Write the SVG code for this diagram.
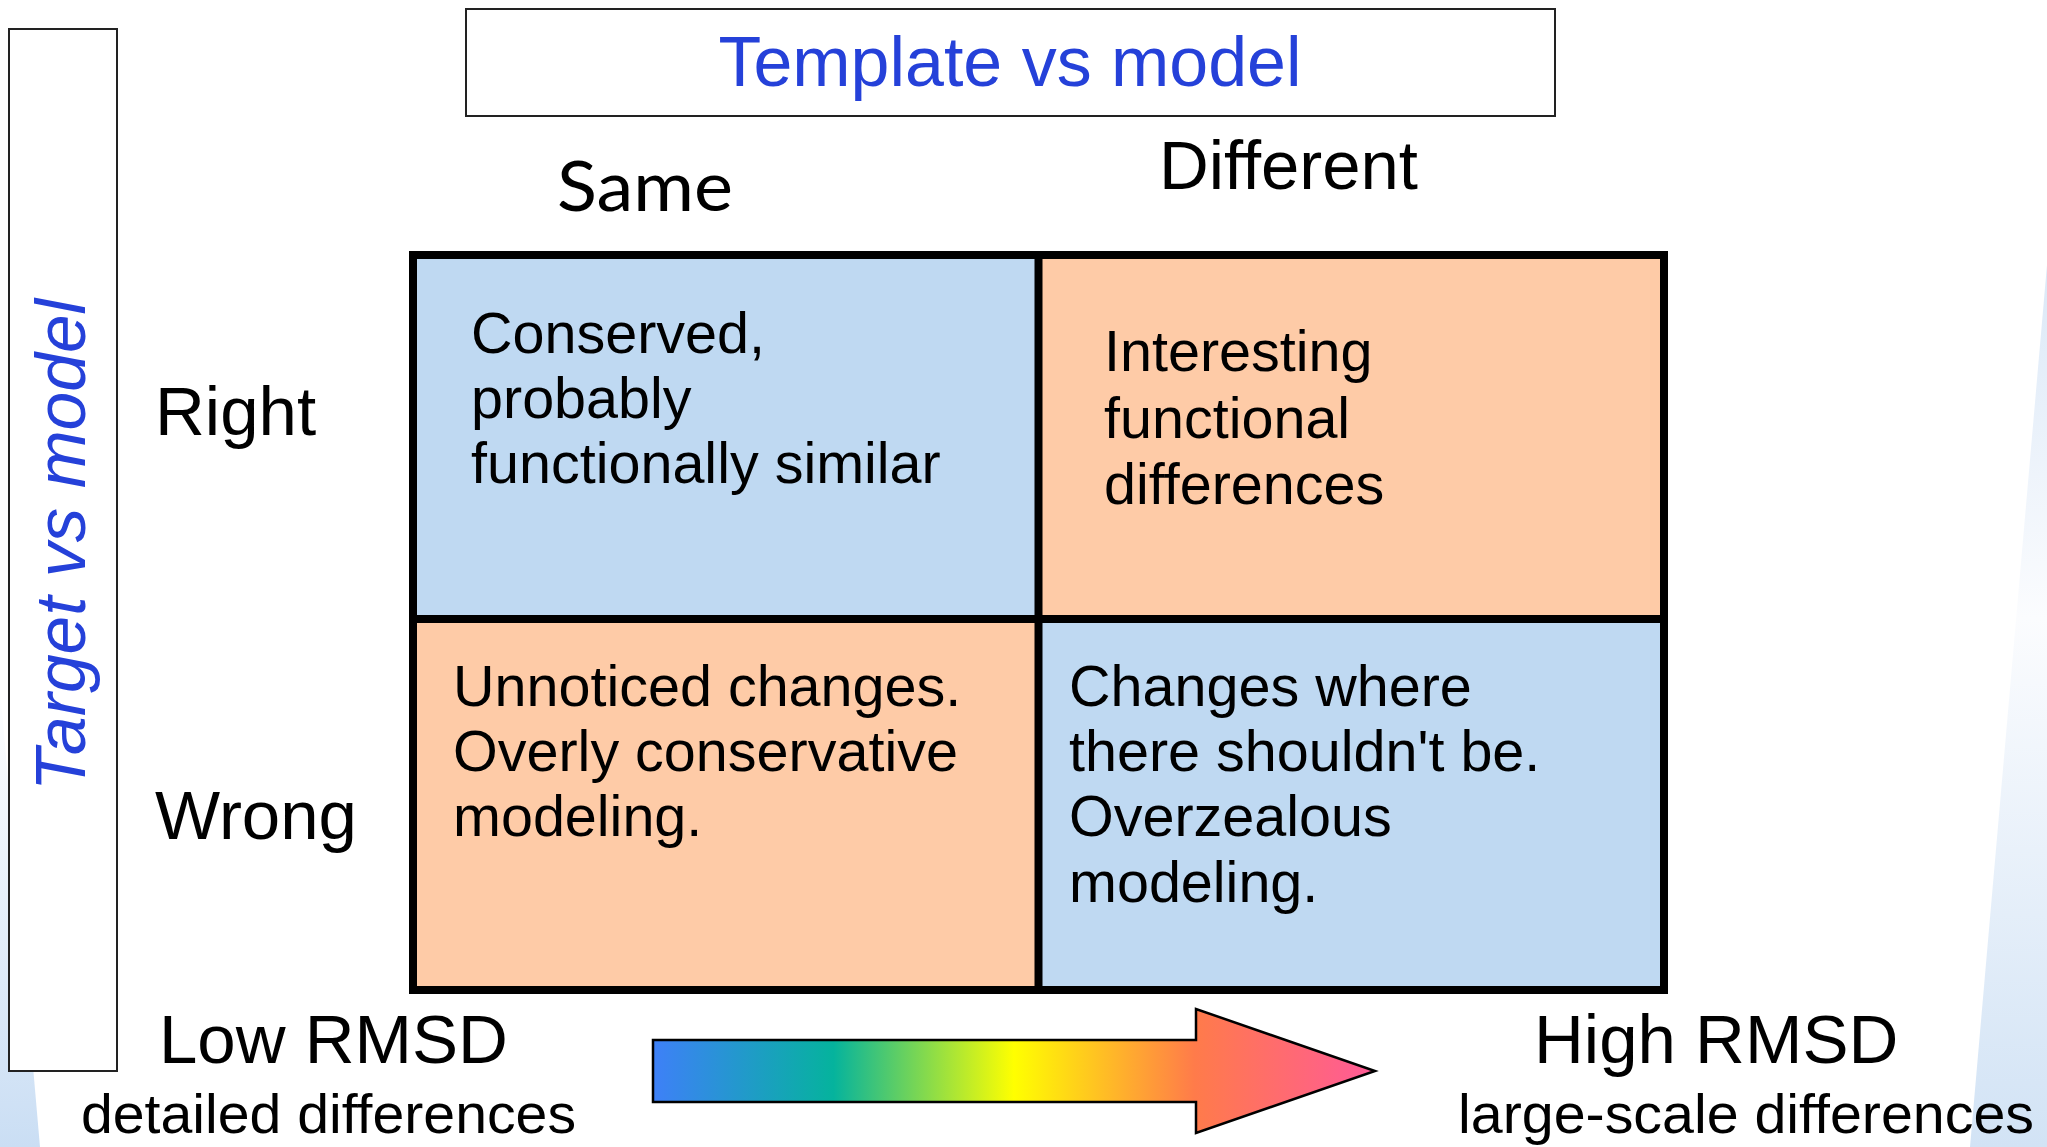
<svg xmlns="http://www.w3.org/2000/svg" width="2047" height="1147" viewBox="0 0 2047 1147">
  <defs>
    <style>
      .lbl { font-family: "Liberation Sans", Arial, sans-serif; fill: #000; }
      .big { font-size: 69px; }
      .cell { font-size: 57.5px; }
      .sub { font-size: 56px; }
      .blue { font-family: "Liberation Sans", Arial, sans-serif; fill: #2541d9; font-size: 70px; }
      .frame { fill: #fff; stroke: #222; stroke-width: 2; }
      .grid { fill: none; stroke: #000; stroke-width: 8; }
    </style>
    <linearGradient id="rainbow" x1="653" y1="0" x2="1375" y2="0" gradientUnits="userSpaceOnUse">
      <stop offset="0" stop-color="#3e80f8"/>
      <stop offset="0.25" stop-color="#05b39d"/>
      <stop offset="0.5" stop-color="#ffff00"/>
      <stop offset="0.75" stop-color="#ff7b4a"/>
      <stop offset="1" stop-color="#ff5a98"/>
    </linearGradient>
    <linearGradient id="wedgeL" x1="0" y1="687" x2="0" y2="1147" gradientUnits="userSpaceOnUse">
      <stop offset="0" stop-color="#ffffff"/>
      <stop offset="1" stop-color="#cadef4"/>
    </linearGradient>
    <linearGradient id="wedgeR" x1="0" y1="265" x2="0" y2="1147" gradientUnits="userSpaceOnUse">
      <stop offset="0" stop-color="#dbe8f7"/>
      <stop offset="0.4" stop-color="#fbfcfe"/>
      <stop offset="1" stop-color="#d2e3f5"/>
    </linearGradient>
  </defs>

  <rect x="0" y="0" width="2047" height="1147" fill="#fff"/>
  <g id="background">
    <polygon points="0,687 40,1147 0,1147" fill="url(#wedgeL)"/>
    <polygon points="2047,265 2047,1147 1970,1147" fill="url(#wedgeR)"/>
  </g>

  <g id="title">
    <rect class="frame" x="466" y="9" width="1089" height="107"/>
    <text class="blue" x="1010" y="86" text-anchor="middle" textLength="583" lengthAdjust="spacingAndGlyphs">Template vs model</text>
  </g>

  <g id="side-title">
    <rect class="frame" x="9" y="29" width="108" height="1042"/>
    <text class="blue" font-style="italic" transform="translate(85,545) rotate(-90)" text-anchor="middle" textLength="492" lengthAdjust="spacingAndGlyphs">Target vs model</text>
  </g>

  <g id="col-same">
    <text x="557" y="211" font-family="Lato, 'Open Sans', sans-serif" font-size="70" fill="#000" textLength="176" lengthAdjust="spacingAndGlyphs">Same</text>
  </g>
  <g id="col-different">
    <text class="lbl big" x="1159" y="189" textLength="259" lengthAdjust="spacingAndGlyphs">Different</text>
  </g>
  <g id="row-right">
    <text class="lbl big" x="155" y="435">Right</text>
  </g>
  <g id="row-wrong">
    <text class="lbl big" x="155" y="839">Wrong</text>
  </g>

  <g id="cell-tl">
    <rect x="413" y="255" width="625.5" height="364" fill="#bfd9f2"/>
    <text class="lbl cell" x="471" y="353">Conserved,</text>
    <text class="lbl cell" x="471" y="418">probably</text>
    <text class="lbl cell" x="471" y="483">functionally similar</text>
  </g>
  <g id="cell-tr">
    <rect x="1038.5" y="255" width="625.5" height="364" fill="#fecba7"/>
    <text class="lbl cell" x="1104" y="371">Interesting</text>
    <text class="lbl cell" x="1104" y="438">functional</text>
    <text class="lbl cell" x="1104" y="504">differences</text>
  </g>
  <g id="cell-bl">
    <rect x="413" y="619" width="625.5" height="371" fill="#fecba7"/>
    <text class="lbl cell" x="453" y="706">Unnoticed changes.</text>
    <text class="lbl cell" x="453" y="771">Overly conservative</text>
    <text class="lbl cell" x="453" y="836">modeling.</text>
  </g>
  <g id="cell-br">
    <rect x="1038.5" y="619" width="625.5" height="371" fill="#bfd9f2"/>
    <text class="lbl cell" x="1069" y="706">Changes where</text>
    <text class="lbl cell" x="1069" y="771">there shouldn't be.</text>
    <text class="lbl cell" x="1069" y="836">Overzealous</text>
    <text class="lbl cell" x="1069" y="902">modeling.</text>
  </g>

  <g id="grid-lines">
    <rect class="grid" x="413" y="255" width="1251" height="735"/>
    <line class="grid" x1="1038.5" y1="255" x2="1038.5" y2="990"/>
    <line class="grid" x1="413" y1="619" x2="1664" y2="619"/>
  </g>

  <g id="low-rmsd">
    <text class="lbl big" x="159" y="1063">Low RMSD</text>
    <text class="lbl sub" x="81" y="1133" textLength="495" lengthAdjust="spacingAndGlyphs">detailed differences</text>
  </g>
  <g id="high-rmsd">
    <text class="lbl big" x="1534" y="1063">High RMSD</text>
    <text class="lbl sub" x="1458" y="1133" textLength="576" lengthAdjust="spacingAndGlyphs">large-scale differences</text>
  </g>

  <g id="connectors">
    <polygon points="653,1040 1196,1040 1196,1009 1375,1071 1196,1133 1196,1102 653,1102" fill="url(#rainbow)" stroke="#000" stroke-width="2.5" stroke-linejoin="miter"/>
  </g>
</svg>
